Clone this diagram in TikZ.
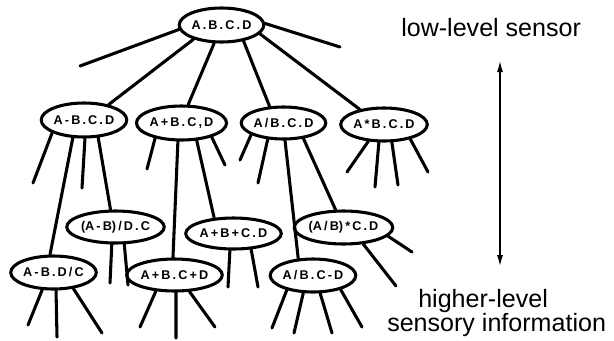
\documentclass[tikz,border=0pt]{standalone}
\usepackage{fontspec}
\setmainfont{Liberation Sans}
\usetikzlibrary{shapes.geometric,arrows.meta}
\begin{document}
\begin{tikzpicture}[x=0.75pt,y=-0.75pt,
  op/.style={ellipse, draw, line width=2.3pt, inner sep=0pt,
    font=\fontsize{9.5}{10}\selectfont\bfseries},
  sz/.style 2 args={minimum width=#1*0.75pt, minimum height=#2*0.75pt},
  edge/.style={line width=2.3pt, line cap=round},
  lbl/.style={font=\fontsize{18.8}{24}\selectfont, inner sep=0pt},
  tip/.style={line width=1.4pt, {Latex[length=9pt,width=4.5pt]}-{Latex[length=9pt,width=4.5pt]}}]
\useasboundingbox (0,0) rectangle (614,340);

% expression nodes
\node[op, sz={81}{34}] (r) at (221.5,25)   {A\,.\,B\,.\,C\,.\,D};
\node[op, sz={72}{34}] (a) at (84,120)     {A\,-\,B\,.\,C\,.\,D};
\node[op, sz={77}{34}] (b) at (181.5,123)  {A\,+\,B\,.\,C\,,\,D};
\node[op, sz={81}{32}] (c) at (283.5,123)  {A\,/\,B\,.\,C\,.\,D};
\node[op, sz={84}{33}] (d) at (384,124.5)  {A\,*\,B\,.\,C\,.\,D};
\node[op, sz={81}{32}] (e) at (115.5,227)  {(A\,-\,B)\,/\,D\,.\,C};
\node[op, sz={81}{31}] (f) at (233.5,233.5){A\,+\,B\,+\,C\,.\,D};
\node[op, sz={83}{33}] (g) at (343.5,227.5){(A\,/\,B)\,*\,C\,.\,D};
\node[op, sz={81}{33}] (h) at (53.5,272.5) {A\,-\,B\,.\,D\,/\,C};
\node[op, sz={75}{32}] (i) at (174.5,275)  {A\,+\,B\,.\,C\,+\,D};
\node[op, sz={82}{33}] (j) at (313,275.5)  {A\,/\,B\,.\,C\,-\,D};

% loose branch ends
\coordinate (r1) at (80,66);   \coordinate (r2) at (340,47);
\coordinate (a1) at (33,183);  \coordinate (a2) at (82,188);
\coordinate (b1) at (147,169); \coordinate (b2) at (225,165);
\coordinate (c1) at (240,160); \coordinate (c2) at (258,183);
\coordinate (d1) at (347,172); \coordinate (d2) at (375,187);
\coordinate (d3) at (398,185); \coordinate (d4) at (428,172);
\coordinate (e1) at (110,283); \coordinate (e2) at (128,285);
\coordinate (f1) at (228,287); \coordinate (f2) at (258,287);
\coordinate (g1) at (412,252); \coordinate (g2) at (396,286);
\coordinate (h1) at (28,325);  \coordinate (h2) at (57,337);  \coordinate (h3) at (102,333);
\coordinate (i1) at (140,327); \coordinate (i2) at (176,338); \coordinate (i3) at (215,327);
\coordinate (j1) at (272,328); \coordinate (j2) at (294,333);
\coordinate (j3) at (332,333); \coordinate (j4) at (362,327);

% branches
\draw[edge] (r.186) -- (r1);
\draw[edge] (r.207) -- (a.32);
\draw[edge] (r.248) -- (b.70);
\draw[edge] (r.324) -- (c.130);
\draw[edge] (r.347) -- (d.148);
\draw[edge] (r.2)   -- (r2);

\draw[edge] (a.202) -- (a1);
\draw[edge] (a.238) -- (h.101);
\draw[edge] (a.273) -- (a2);
\draw[edge] (a.309) -- (e.106);

\draw[edge] (b.210) -- (b1);
\draw[edge] (b.259) -- (i.95);
\draw[edge] (b.311) -- (f.141);
\draw[edge] (b.335) -- (b2);

\draw[edge] (c.200) -- (c1);
\draw[edge] (c.226) -- (c2);
\draw[edge] (c.275) -- (j.131);
\draw[edge] (c.322) -- (g.114);

\draw[edge] (d.227) -- (d1);
\draw[edge] (d.254) -- (d2);
\draw[edge] (d.294) -- (d3);
\draw[edge] (d.331) -- (d4);

\draw[edge] (e.258) -- (e1);
\draw[edge] (e.297) -- (e2);
\draw[edge] (f.258) -- (f1);
\draw[edge] (f.318) -- (f2);
\draw[edge] (g.349) -- (g1);
\draw[edge] (g.320) -- (g2);

\draw[edge] (h.237) -- (h1);
\draw[edge] (h.278) -- (h2);
\draw[edge] (h.321) -- (h3);
\draw[edge] (i.221) -- (i1);
\draw[edge] (i.275) -- (i2);
\draw[edge] (i.312) -- (i3);
\draw[edge] (j.209) -- (j1);
\draw[edge] (j.241) -- (j2);
\draw[edge] (j.292) -- (j3);
\draw[edge] (j.333) -- (j4);

% scale of abstraction
\node[lbl, anchor=base west] (low)  at (401,36)  {low-level sensor};
\node[lbl, anchor=base west] (high) at (418,307) {higher-level};
\node[lbl, anchor=base west] (info) at (387,331) {sensory information};
\coordinate (up) at (500,60);
\coordinate (dn) at (500,267);
\draw[tip] (up) -- (dn);
\end{tikzpicture}
\end{document}
